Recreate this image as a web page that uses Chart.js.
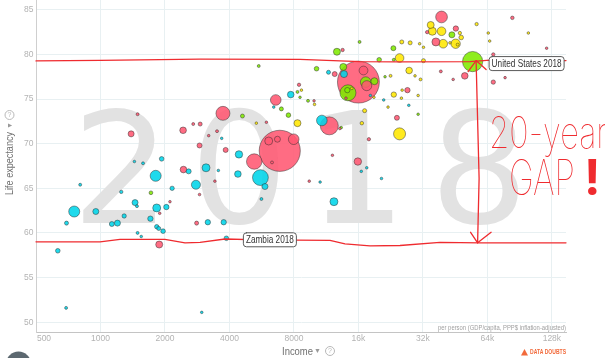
<!DOCTYPE html>
<html><head><meta charset="utf-8">
<script src="https://cdn.jsdelivr.net/npm/chart.js@4/dist/chart.umd.min.js"></script>
<style>html,body{margin:0;padding:0;background:#fff;overflow:hidden}canvas{display:block}</style>
</head><body>
<canvas id="c" width="605" height="358"></canvas>
<script>
// ---- axis ticks ----
const xTickValues = [500, 1000, 2000, 4000, 8000, 16000, 32000, 64000, 128000];
const xTickLabels = ['500', '1000', '2000', '4000', '8000', '16k', '32k', '64k', '128k'];
const yTickValues = [50, 55, 60, 65, 70, 75, 80, 85];
const yearLabel = '2018';

// ---- Africa ----
const africaIncome = [3110, 804, 1250, 1440, 1580, 1930, 2580, 1810, 2790, 2160, 754, 951, 1450, 1480, 1830, 2030, 1290, 1710, 1130, 1200, 694, 1830, 1870, 1960, 1490, 1550, 632, 691, 3680, 4430, 3550, 4380, 5580, 5860, 5640, 10600, 12300, 3170, 3760, 3870, 2970, 7730, 6440, 10800, 11600, 13700, 16500, 17500, 20500, 18200, 21000, 27500];
const africaLife = [67.3, 65.4, 64.6, 68.0, 67.8, 68.3, 66.9, 66.4, 65.4, 65.0, 62.4, 62.4, 63.4, 63.0, 62.8, 62.9, 61.9, 61.6, 61.0, 61.1, 61.1, 60.7, 60.5, 60.2, 60.0, 59.6, 58.0, 51.6, 70.6, 68.8, 67.0, 66.6, 66.2, 65.2, 63.8, 65.7, 63.5, 61.2, 61.2, 59.4, 51.1, 75.5, 74.1, 72.6, 78.0, 77.8, 66.9, 67.3, 66.1, 75.4, 74.9, 74.3];
const africaPop = [51, 7, 9, 4, 7, 17, 20, 97, 65, 15, 97, 29, 29, 7, 51, 23, 15, 23, 20, 29, 13, 15, 13, 17, 7, 3, 17, 7, 5, 44, 3, 35, 200, 29, 7, 3, 51, 23, 23, 17, 4, 35, 3, 90, 13, 39, 4, 4, 3, 5, 3, 2];
const zambiaIndex = 39;

// ---- Americas ----
const americasIncome = [1720, 4600, 5480, 6990, 7540, 8310, 8540, 9310, 10200, 12700, 16200, 13600, 14300, 14200, 17300, 19000, 20000, 21300, 23300, 23400, 30400, 43700, 54600, 13300];
const americasLife = [64.5, 73.1, 78.7, 73.9, 73.2, 75.8, 75.2, 74.8, 78.4, 80.3, 81.4, 78.6, 75.7, 76.0, 76.9, 77.0, 79.4, 77.5, 80.7, 79.4, 73.3, 82.2, 79.2, 71.8];
const americasPop = [11, 13, 7, 13, 17, 7, 5, 7, 17, 39, 7, 39, 204, 23, 90, 39, 17, 5, 20, 7, 3, 29, 327, 2];
const usIndex = 22;

// ---- Asia ----
const asiaIncome = [1490, 1390, 2430, 2710, 2920, 2900, 2440, 2110, 2900, 1890, 2810, 1880, 6580, 3730, 5950, 11700, 13100, 6870, 6100, 6700, 7980, 5220, 6320, 3840, 3500, 3200, 3420, 12100, 9430, 15900, 17900, 8450, 9930, 12400, 13500, 16000, 16900, 17500, 24200, 27100, 39100, 45600, 33500, 36800, 38800, 50200, 44300, 68200, 68200, 77400, 83700, 121000, 14000];
const asiaLife = [73.3, 71.1, 71.5, 72.2, 72.2, 69.8, 67.1, 63.5, 64.3, 62.2, 61.1, 58.7, 74.9, 73.4, 72.4, 72.0, 71.7, 69.2, 70.3, 70.5, 70.5, 68.0, 67.9, 69.3, 71.4, 70.9, 65.8, 68.7, 65.8, 68.0, 70.5, 76.6, 74.8, 77.8, 80.5, 76.9, 78.2, 76.5, 72.9, 76.0, 84.2, 82.9, 82.5, 81.4, 78.1, 77.6, 77.2, 80.0, 76.9, 77.4, 84.1, 80.7, 75.1];
const asiaPop = [7, 29, 35, 7, 13, 20, 35, 3, 3, 3, 13, 39, 90, 156, 3, 258, 2, 1350, 51, 29, 90, 190, 7, 20, 7, 3, 3, 5, 3, 44, 9, 9, 3, 20, 9, 1400, 62, 80, 20, 23, 110, 23, 9, 51, 7, 35, 2, 9, 15, 2, 10, 5, 2];

// ---- Europe ----
const europeIncome = [8310, 9980, 8670, 14900, 18900, 17100, 16600, 22600, 24900, 23400, 25500, 24900, 27600, 25600, 25400, 22000, 30400, 27900, 30900, 32200, 32200, 29400, 31200, 34800, 35400, 39100, 47600, 48300, 39800, 45500, 42800, 46500, 57000, 64600, 65600, 99400, 5340];
const europeLife = [72.3, 74.4, 76.0, 76.2, 75.2, 73.7, 72.3, 77.6, 71.1, 75.5, 81.4, 79.6, 78.2, 76.0, 75.1, 74.1, 75.4, 81.3, 81.2, 80.8, 79.3, 77.6, 77.2, 83.3, 82.6, 82.6, 82.4, 81.9, 81.2, 81.2, 81.3, 81.1, 83.4, 82.4, 81.5, 82.4, 72.3];
const europePop = [39, 5, 3, 5, 5, 13, 10, 7, 115, 23, 13, 60, 35, 4, 3, 2, 5, 13, 3, 2, 13, 5, 7, 39, 51, 60, 9, 17, 60, 70, 5, 7, 9, 5, 5, 1, 5];

const regions = [
  { income: africaIncome, life: africaLife, pop: africaPop, color: 'rgba(0,213,233,0.88)' },
  { income: americasIncome, life: americasLife, pop: americasPop, color: 'rgba(127,235,0,0.88)' },
  { income: asiaIncome, life: asiaLife, pop: asiaPop, color: 'rgba(255,88,114,0.88)' },
  { income: europeIncome, life: europeLife, pop: europePop, color: 'rgba(255,231,0,0.88)' }
];
const all = [];
regions.forEach(rg => rg.income.forEach((v, i) => all.push({ x: v, y: rg.life[i], pop: rg.pop[i], c: rg.color })));
all.sort((a, b) => b.pop - a.pop);
const points = all.map(p => ({ x: p.x, y: p.y, r: Math.max(1.3, 0.56 * Math.sqrt(p.pop)) }));
const colors = all.map(p => p.c);

const RED = '#ef2b2f';
const FONT = '"Liberation Sans", Arial, sans-serif';

const watermark = {
  id: 'watermark',
  beforeDatasetsDraw(chart) {
    const ctx = chart.ctx;
    ctx.save();
    ctx.fillStyle = '#e2e2e2';
    ctx.font = '100px "DejaVu Sans"';
    const m = ctx.measureText('2');
    const h = m.actualBoundingBoxAscent + m.actualBoundingBoxDescent;
    const size = 100 * 116 / h;
    ctx.font = size.toFixed(1) + 'px "DejaVu Sans"';
    ctx.textBaseline = 'alphabetic';
    ctx.textAlign = 'left';
    const lefts = [83, 200, 325, 440];
    yearLabel.split('').forEach((d, i) => {
      const md = ctx.measureText(d);
      ctx.fillText(d, lefts[i] + md.actualBoundingBoxLeft, 223);
    });
    ctx.restore();
  }
};

function roundBox(ctx, x, y, w, h, r) {
  ctx.beginPath();
  ctx.moveTo(x + r, y);
  ctx.lineTo(x + w - r, y); ctx.quadraticCurveTo(x + w, y, x + w, y + r);
  ctx.lineTo(x + w, y + h - r); ctx.quadraticCurveTo(x + w, y + h, x + w - r, y + h);
  ctx.lineTo(x + r, y + h); ctx.quadraticCurveTo(x, y + h, x, y + h - r);
  ctx.lineTo(x, y + r); ctx.quadraticCurveTo(x, y, x + r, y);
  ctx.closePath();
}
function helpIcon(ctx, cx, cy) {
  ctx.save();
  ctx.strokeStyle = '#b8b8b8'; ctx.lineWidth = 1;
  ctx.beginPath(); ctx.arc(cx, cy, 4.5, 0, Math.PI * 2); ctx.stroke();
  ctx.fillStyle = '#b8b8b8'; ctx.font = '7px ' + FONT; ctx.textAlign = 'center'; ctx.textBaseline = 'middle';
  ctx.fillText('?', cx, cy + 0.5);
  ctx.restore();
}

const decorations = {
  id: 'decorations',
  afterDraw(chart) {
    const ctx = chart.ctx;
    const xs = chart.scales.x, ys = chart.scales.y;
    const area = chart.chartArea;
    ctx.save();
    // tick labels
    ctx.fillStyle = '#b3b3b3';
    ctx.font = '8.5px ' + FONT;
    ctx.textAlign = 'right'; ctx.textBaseline = 'middle';
    yTickValues.forEach(v => ctx.fillText(String(v), area.left - 2.5, ys.getPixelForValue(v)));
    ctx.textAlign = 'center';
    xTickValues.forEach((v, i) => {
      let px = xs.getPixelForValue(v);
      if (i === 0) px += 8;
      ctx.fillText(xTickLabels[i], px, 339);
    });
    // axis titles
    ctx.fillStyle = '#707070';
    ctx.font = '11.5px ' + FONT;
    ctx.textAlign = 'left'; ctx.textBaseline = 'alphabetic';
    ctx.fillText('Income', 282, 355, 31);
    ctx.font = '7px ' + FONT;
    ctx.fillStyle = '#999';
    ctx.fillText('▼', 314, 353);
    helpIcon(ctx, 330, 351);
    ctx.save();
    ctx.translate(13, 195);
    ctx.rotate(-Math.PI / 2);
    ctx.fillStyle = '#707070';
    ctx.font = '11.5px ' + FONT;
    ctx.fillText('Life expectancy', 0, 0, 63);
    ctx.font = '7px ' + FONT; ctx.fillStyle = '#999';
    ctx.fillText('▼', 66, -1.5);
    ctx.restore();
    helpIcon(ctx, 9.5, 115);
    // unit note
    ctx.fillStyle = '#a0a0a0';
    ctx.font = '7px ' + FONT;
    ctx.textAlign = 'right';
    ctx.fillText('per person (GDP/capita, PPP$ inflation-adjusted)', area.right, 330, 128);
    // data doubts
    ctx.fillStyle = '#f26a3b';
    ctx.beginPath(); ctx.moveTo(524.5, 349); ctx.lineTo(528, 355.5); ctx.lineTo(521, 355.5); ctx.closePath(); ctx.fill();
    ctx.font = 'bold 6.5px ' + FONT; ctx.textAlign = 'left'; ctx.textBaseline = 'middle';
    ctx.fillText('DATA DOUBTS', 530, 352.5, 36);
    // play button
    ctx.fillStyle = '#5c6870';
    ctx.beginPath(); ctx.arc(18.5, 364, 12.5, 0, Math.PI * 2); ctx.fill();

    // ---- hand drawn annotation anchored to US and Zambia ----
    const usX = xs.getPixelForValue(americasIncome[usIndex]);
    const usY = ys.getPixelForValue(americasLife[usIndex]);
    const zX = xs.getPixelForValue(africaIncome[zambiaIndex]);
    const zY = ys.getPixelForValue(africaLife[zambiaIndex]);
    ctx.strokeStyle = RED; ctx.lineWidth = 1.3; ctx.lineJoin = 'round'; ctx.lineCap = 'round';
    const topWobble = [[36, -0.7], [100, -1.3], [200, -2.4], [300, -2.2], [360, 0], [400, 0.2], [470, 0], [490, -1.4], [566, -1]];
    ctx.beginPath();
    topWobble.forEach(([px, dy], i) => i ? ctx.lineTo(px, usY + dy) : ctx.moveTo(px, usY + dy));
    ctx.stroke();
    const botWobble = [[36, 3.5], [100, 3.5], [120, 1], [165, 1], [185, 4.5], [200, 4], [225, 0.7], [260, 1.5], [330, 2], [345, 5.5], [370, 7.5], [400, 7.2], [440, 4], [480, 4.5], [566, 4.5]];
    ctx.beginPath();
    botWobble.forEach(([px, dy], i) => i ? ctx.lineTo(px, zY + dy) : ctx.moveTo(px, zY + dy));
    ctx.stroke();
    const ax = usX + 3.5, top = usY - 1, bot = zY + 4.5;
    ctx.beginPath();
    ctx.moveTo(ax, top);
    ctx.lineTo(ax + 1, top + 40);
    ctx.lineTo(ax + 3, top + 118);
    ctx.lineTo(ax + 1.5, bot);
    ctx.stroke();
    ctx.beginPath();
    ctx.moveTo(ax - 8, top + 11); ctx.lineTo(ax, top); ctx.lineTo(ax + 10, top + 9);
    ctx.stroke();
    ctx.beginPath();
    ctx.moveTo(ax - 5.5, bot - 10.5); ctx.lineTo(ax + 1.5, bot); ctx.lineTo(ax + 15, bot - 10.5);
    ctx.stroke();
    // handwritten note
    ctx.fillStyle = RED;
    ctx.textAlign = 'left'; ctx.textBaseline = 'alphabetic';
    ctx.font = '100 43px Inter, Roboto, sans-serif';
    ctx.fillText('20-year', 489, 148, 118);
    ctx.font = '100 49px Inter, Roboto, sans-serif';
    ctx.fillText('GAP', 509, 195, 66);
    ctx.font = '700 49px Inter, Roboto, sans-serif';
    ctx.fillText('!', 584, 195);

    // labels
    function label(text, x, y, w) {
      roundBox(ctx, x + 0.5, y + 0.5, w, 14, 3);
      ctx.fillStyle = '#fff'; ctx.fill();
      ctx.strokeStyle = '#5a5a5a'; ctx.lineWidth = 1; ctx.stroke();
      ctx.fillStyle = '#333';
      ctx.font = '10.5px ' + FONT; ctx.textAlign = 'left'; ctx.textBaseline = 'middle';
      ctx.fillText(text, x + 3, y + 8, w - 5);
    }
    label('United States 2018', usX + 16, usY - 5.5, 75);
    label('Zambia 2018', zX + 16.5, zY - 6, 53);
    ctx.restore();
  }
};

new Chart(document.getElementById('c').getContext('2d'), {
  type: 'bubble',
  data: {
    datasets: [{
      data: points,
      backgroundColor: colors,
      borderColor: 'rgba(45,45,45,0.6)',
      borderWidth: 0.8,
      hoverBorderWidth: 0.8
    }]
  },
  options: {
    responsive: false,
    animation: false,
    devicePixelRatio: 1,
    events: [],
    layout: { autoPadding: false, padding: { left: 36, right: 39, top: 0, bottom: 26 } },
    plugins: { legend: { display: false }, tooltip: { enabled: false } },
    scales: {
      x: {
        type: 'logarithmic', min: 500, max: 149000,
        afterBuildTicks: s => { s.ticks = xTickValues.slice(1).map(v => ({ value: v })); },
        ticks: { display: false },
        grid: { color: '#e8f0f2', drawTicks: false, lineWidth: 1 },
        border: { color: '#c4c4c4', width: 1 }
      },
      y: {
        type: 'linear', min: 48.9, max: 86.1,
        afterBuildTicks: s => { s.ticks = yTickValues.map(v => ({ value: v })); },
        ticks: { display: false },
        grid: { color: '#e8f0f2', drawTicks: false, lineWidth: 1 },
        border: { color: '#cfcfcf', width: 1 }
      }
    }
  },
  plugins: [watermark, decorations]
});
</script>
</body></html>
